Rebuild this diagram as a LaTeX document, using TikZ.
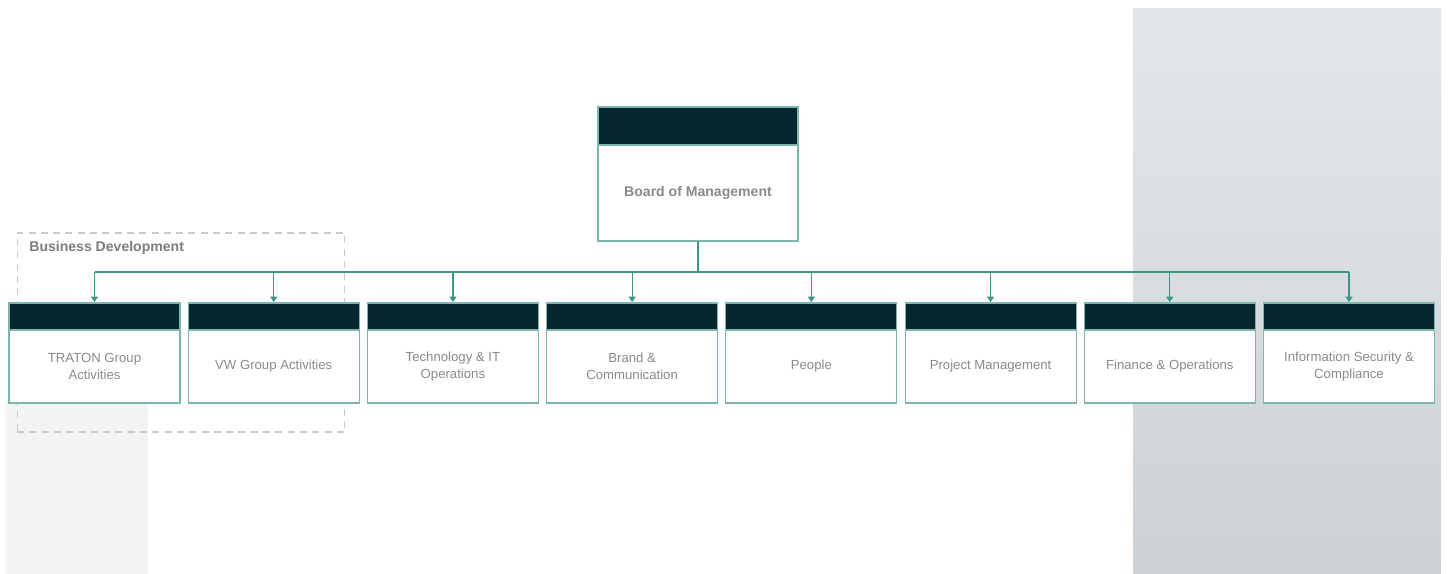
\documentclass[tikz,border=0pt]{standalone}
\usepackage{fontspec}
\setmainfont{Liberation Sans}
\usepackage{xcolor}
\usepackage{tikz}
\usetikzlibrary{arrows.meta, positioning}
\definecolor{headDark}{RGB}{6,38,48}
\definecolor{linkTeal}{RGB}{60,150,136}
\definecolor{edgeTeal}{RGB}{125,182,172}
\definecolor{labelGrey}{RGB}{138,138,138}
\definecolor{dashGrey}{RGB}{200,202,204}
\definecolor{panelTop}{RGB}{227,231,234}
\definecolor{panelBottom}{RGB}{204,209,213}
\definecolor{panelLeft}{RGB}{241,243,244}
\tikzstyle{arrow} = [-{Triangle[length=1.1mm, width=1.4mm]}, linkTeal, line width=0.7pt, shorten >=0.5pt]
\tikzstyle{bus}   = [linkTeal, line width=0.7pt]

\begin{document}
\begin{tikzpicture}[x=0.02cm, y=-0.02cm,
  unithead/.style={draw=edgeTeal, fill=headDark, line width=0.6pt, minimum width=3.42cm, minimum height=0.54cm, inner sep=0pt, outer sep=0pt},
  unitbody/.style={draw=edgeTeal, fill=white, line width=0.6pt, minimum width=3.42cm, minimum height=1.46cm, inner sep=2pt, outer sep=0pt, align=center, font=\fontsize{7.5}{9.5}\selectfont, text=labelGrey},
  boardhead/.style={unithead, minimum width=4cm, minimum height=0.76cm},
  boardbody/.style={unitbody, minimum width=4cm, minimum height=1.92cm, font=\fontsize{8}{10}\selectfont\bfseries},
  groupbox/.style={draw=dashGrey, dashed, dash pattern=on 4pt off 3pt, line width=0.6pt, minimum width=6.56cm, minimum height=3.98cm, inner sep=0pt},
  grouplabel/.style={font=\fontsize{8}{10}\selectfont\bfseries, text=labelGrey!90!black, inner sep=0pt}
]
\useasboundingbox (0,0) rectangle (1448,574);

% Side panels
\fill[panelLeft] (5,400) rectangle (148,574);
\shade[top color=panelTop, bottom color=panelBottom] (1133,9) rectangle (1441,574);

% Business Development group
\node[groupbox] (bizdev) at (181,332.5) {};
\node[grouplabel, anchor=west] (bizdevLabel) at (29,248) {Business Development};

% Board
\node[boardhead] (boardHd) at (698,126) {};
\node[boardbody, below=0pt of boardHd] (board) {Board of Management};

% Departments
\node[unithead] (trHd) at (94.5,316.5) {};
\node[unitbody, below=0pt of trHd] (tr) {TRATON Group\\Activities};

\node[unithead, right=0.165cm of trHd] (vwHd) {};
\node[unitbody, below=0pt of vwHd] (vw) {VW Group Activities};

\node[unithead, right=0.165cm of vwHd] (techHd) {};
\node[unitbody, below=0pt of techHd] (tech) {Technology \& IT\\Operations};

\node[unithead, right=0.165cm of techHd] (brandHd) {};
\node[unitbody, below=0pt of brandHd] (brand) {Brand \&\\Communication};

\node[unithead, right=0.165cm of brandHd] (peopleHd) {};
\node[unitbody, below=0pt of peopleHd] (people) {People};

\node[unithead, right=0.165cm of peopleHd] (pmHd) {};
\node[unitbody, below=0pt of pmHd] (pm) {Project Management};

\node[unithead, right=0.165cm of pmHd] (finHd) {};
\node[unitbody, below=0pt of finHd] (fin) {Finance \& Operations};

\node[unithead, right=0.165cm of finHd] (isHd) {};
\node[unitbody, below=0pt of isHd] (is) {Information Security \&\\Compliance};

% Connectors
\coordinate (bus) at (698,272);
\draw[bus] (board.south) -- (bus);
\draw[bus] (trHd.north |- bus) -- (isHd.north |- bus);
\draw[arrow] (trHd.north |- bus) -- (trHd.north);
\draw[arrow] (vwHd.north |- bus) -- (vwHd.north);
\draw[arrow] (techHd.north |- bus) -- (techHd.north);
\draw[arrow] (brandHd.north |- bus) -- (brandHd.north);
\draw[arrow] (peopleHd.north |- bus) -- (peopleHd.north);
\draw[arrow] (pmHd.north |- bus) -- (pmHd.north);
\draw[arrow] (finHd.north |- bus) -- (finHd.north);
\draw[arrow] (isHd.north |- bus) -- (isHd.north);

\end{tikzpicture}
\end{document}
